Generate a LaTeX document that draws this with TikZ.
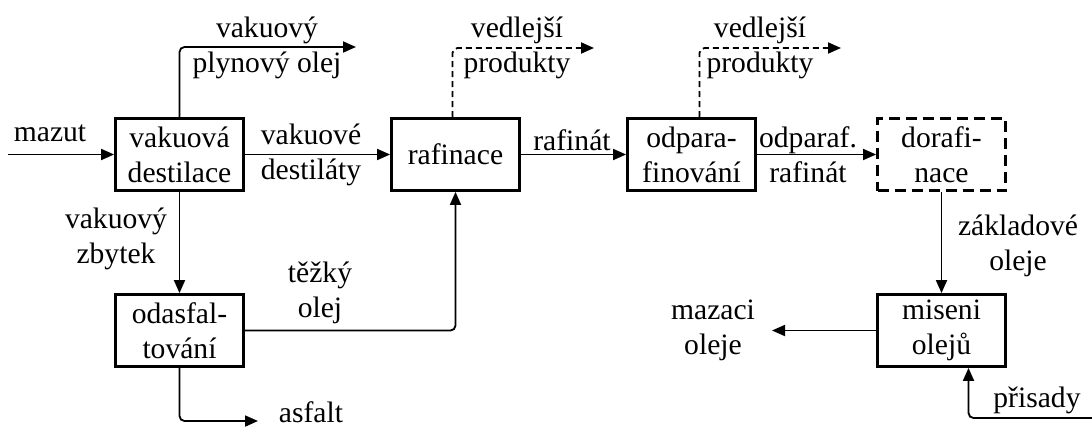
\documentclass[tikz,border=0pt]{standalone}
\usepackage{fontspec}
\setmainfont{Liberation Serif}
\usetikzlibrary{arrows.meta}
\begin{document}
\begin{tikzpicture}[x=0.5pt,y=-0.5pt,
  font=\fontsize{14.8}{17.5}\selectfont,
  proc/.style={draw, line width=1.4pt, minimum width=64pt, minimum height=36pt, inner sep=0pt, align=center},
  optproc/.style={proc, dash pattern=on 5.5pt off 3pt},
  flow/.style={line width=0.9pt, -{Triangle[length=6.5pt,width=5.5pt]}, rounded corners=2.5pt},
  side/.style={flow, dash pattern=on 3pt off 2pt},
  lbl/.style={align=center, inner sep=0pt}]
\useasboundingbox (0,0) rectangle (1092,428);
% process boxes
\node[proc] (vd) at (179.5,154.5) {vakuová\\destilace};
\node[proc] (raf) at (455.5,154.5) {rafinace};
\node[proc] (odp) at (691.5,154.5) {odpara-\\finování};
\node[optproc] (dor) at (941.5,154.5) {dorafi-\\nace};
\node[proc] (oda) at (179.5,330.5) {odasfal-\\tování};
\node[proc] (mis) at (941.5,330.5) {miseni\\olejů};
% free ends
\coordinate (in) at (8,154.5);
\coordinate (vgo) at (356,47);
\coordinate (vp1) at (594,48);
\coordinate (vp2) at (841,48);
\coordinate (asf) at (258,421);
\coordinate (maz) at (772,330.5);
\coordinate (pris) at (1092,418);
% connectors
\draw[flow] (in) -- (vd);
\draw[flow] (vd.north) |- (vgo);
\draw[flow] (vd) -- (raf);
\draw[flow] (vd) -- (oda);
\draw[flow] (oda) -| (raf);
\draw[flow] (oda.south) |- (asf);
\draw[side] ([xshift=-1.5pt]raf.north) |- (vp1);
\draw[flow] (raf) -- (odp);
\draw[side] ([xshift=4pt]odp.north) |- (vp2);
\draw[flow] (odp) -- (dor);
\draw[flow] (dor) -- (mis);
\draw[flow] (mis) -- (maz);
\draw[flow] (pris) -| ([xshift=13.5pt]mis.south);
% labels
\node[lbl] (lmazut) at (50,133) {mazut};
\node[lbl] (lvgo) at (267,47.5) {vakuový\\plynový olej};
\node[lbl] (lvd) at (311,154.5) {vakuové\\destiláty};
\node[lbl] (lvz) at (116,238.5) {vakuový\\zbytek};
\node[lbl] (lto) at (320,293) {těžký\\olej};
\node[lbl] (lasf) at (311,412) {asfalt};
\node[lbl] (lvp1) at (517,47.5) {vedlejší\\produkty};
\node[lbl] (lraf) at (572,140) {rafinát};
\node[lbl] (lvp2) at (760,47.5) {vedlejší\\produkty};
\node[lbl] (lodp) at (808,154.5) {odparaf.\\rafinát};
\node[lbl] (lzo) at (1018,245.5) {základové\\oleje};
\node[lbl] (lmo) at (713,330.5) {mazaci\\oleje};
\node[lbl] (lpr) at (1037,400) {přisady};
\end{tikzpicture}
\end{document}
